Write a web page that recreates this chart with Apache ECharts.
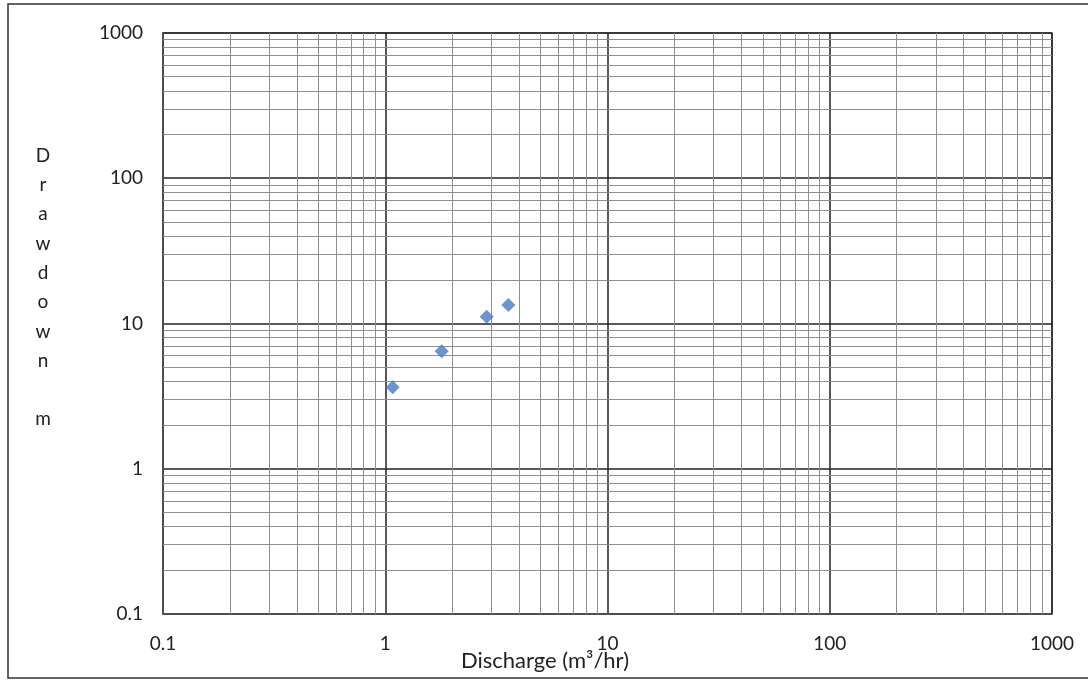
<!DOCTYPE html>
<html>
<head>
<meta charset="utf-8">
<script src="https://cdn.jsdelivr.net/npm/echarts@6/dist/echarts.min.js"></script>
<style>
html,body{margin:0;padding:0;background:#fff;}
#chart{width:1088px;height:681px;}
</style>
</head>
<body>
<div id="chart"></div>
<script>
// Data
var discharge = [1.08, 1.795, 2.86, 3.58];      // m3/hr
var drawdown  = [3.64, 6.44, 11.14, 13.41];      // m
var xTickLabels = ['0.1', '1', '10', '100', '1000'];
var yTickLabels = ['0.1', '1', '10', '100', '1000'];
var decadeStarts = [0.1, 1, 10, 100];
var minorMultipliers = [2, 3, 4, 5, 6, 7, 8, 9];

var minorValues = [];
decadeStarts.forEach(function (d) {
  minorMultipliers.forEach(function (m) { minorValues.push(+(d * m).toPrecision(3)); });
});

var points = discharge.map(function (x, i) { return [x, drawdown[i]]; });

var font = 'Lato, "Open Sans", sans-serif';
var chart = echarts.init(document.getElementById('chart'));

function fmt(v) { return String(+Number(v).toPrecision(3)); }

var option = {
  backgroundColor: '#fff',
  animation: false,
  grid: {
    left: 163, top: 33, right: 36, bottom: 67,
    show: true, borderColor: '#555', borderWidth: 1.5
  },
  xAxis: {
    type: 'log', logBase: 10, min: 0.1, max: 1000,
    axisLine: { show: true, lineStyle: { color: '#555', width: 1.5 } },
    axisTick: { show: false },
    splitLine: { show: true, lineStyle: { color: '#222', width: 1.5 } },
    axisLabel: {
      margin: 20, fontSize: 19, color: '#222', fontFamily: font,
      formatter: function (v) { var s = fmt(v); return xTickLabels.indexOf(s) >= 0 ? s : ''; }
    }
  },
  yAxis: {
    type: 'log', logBase: 10, min: 0.1, max: 1000,
    axisLine: { show: true, lineStyle: { color: '#555', width: 1.5 } },
    axisTick: { show: false },
    splitLine: { show: true, lineStyle: { color: '#222', width: 1.5 } },
    axisLabel: {
      margin: 20, fontSize: 19, color: '#222', fontFamily: font,
      formatter: function (v) { var s = fmt(v); return yTickLabels.indexOf(s) >= 0 ? s : ''; }
    }
  },
  series: [
    {
      type: 'scatter', data: [], z: 1, silent: true,
      markLine: {
        silent: true, symbol: ['none', 'none'], animation: false,
        label: { show: false },
        lineStyle: { color: '#8f8f8f', width: 1, type: 'solid' },
        data: minorValues.map(function (v) { return { xAxis: v }; })
          .concat(minorValues.map(function (v) { return { yAxis: v }; }))
      }
    },
    {
      type: 'scatter', data: points, z: 5,
      symbol: 'diamond', symbolSize: 14,
      itemStyle: { color: '#4a78c8' }
    }
  ],
  graphic: [
    {
      type: 'rect', silent: true, z: -1,
      shape: { x: 8, y: 4, width: 1200, height: 674 },
      style: { fill: 'none', stroke: '#333', lineWidth: 1.5 }
    },
    {
      type: 'text', silent: true,
      style: {
        text: 'Discharge (m\u00B3/hr)', x: 545, y: 661,
        textAlign: 'center', textVerticalAlign: 'middle',
        fontSize: 22, fontFamily: font, fill: '#222'
      }
    },
    {
      type: 'text', silent: true,
      style: {
        text: 'D\nr\na\nw\nd\no\nw\nn\n\nm', x: 43, y: 141,
        textAlign: 'center', lineHeight: 29.3,
        fontSize: 19, fontFamily: font, fill: '#222'
      }
    }
  ]
};
chart.setOption(option);
</script>
</body>
</html>
